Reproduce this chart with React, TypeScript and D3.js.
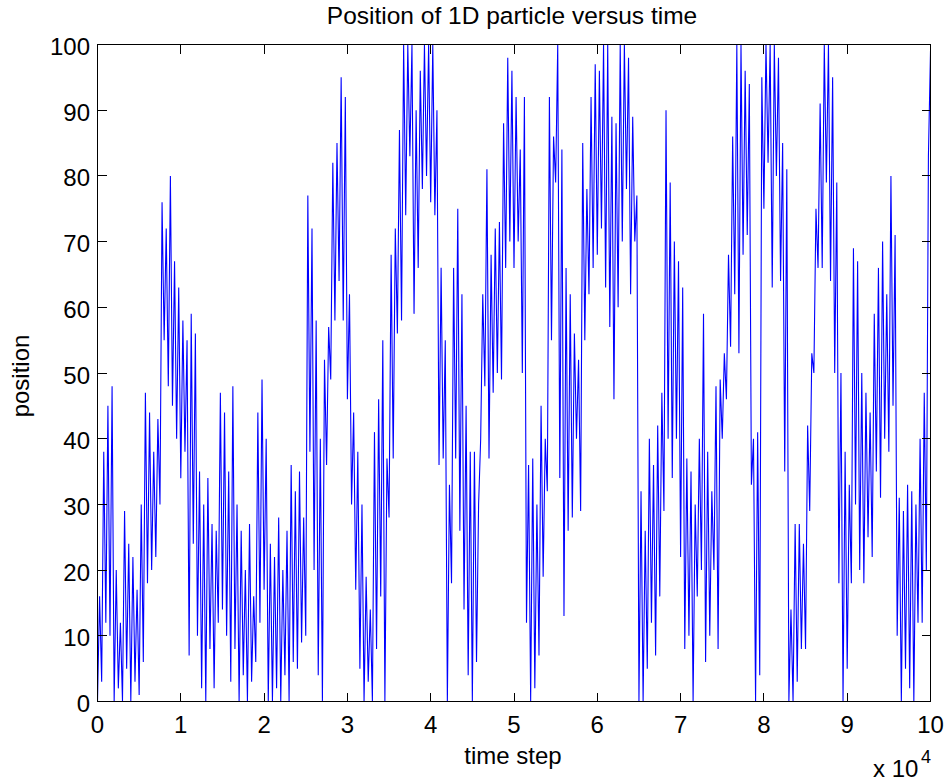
import React from "react";
import * as d3 from "d3";

// particle position, every 250 time steps (0 .. 100000)
const position = [
  0, 16, 3, 38, 12, 45, 10, 48, 0, 20, 2, 12, 0, 29, 5, 24, 0, 22, 3, 17,
  1, 30, 6, 47, 18, 44, 20, 38, 22, 43, 30, 76, 55, 72, 48, 80, 45, 67, 40, 63,
  34, 58, 38, 55, 7, 59, 24, 56, 10, 35, 2, 30, 0, 34, 8, 27, 2, 26, 12, 47,
  14, 44, 10, 35, 3, 48, 8, 30, 0, 26, 4, 20, 0, 27, 3, 16, 6, 44, 12, 49,
  17, 40, 0, 24, 0, 22, 2, 28, 0, 20, 4, 26, 0, 36, 6, 32, 5, 35, 9, 28,
  10, 77, 38, 72, 20, 58, 4, 40, 0, 52, 36, 57, 49, 82, 58, 85, 64, 95, 58, 92,
  46, 62, 30, 44, 17, 38, 5, 30, 0, 19, 3, 14, 0, 41, 8, 46, 16, 55, 0, 37,
  28, 68, 37, 72, 56, 87, 58, 100, 74, 100, 83, 100, 59, 90, 66, 96, 78, 100, 80, 100,
  76, 100, 74, 90, 36, 66, 37, 55, 0, 33, 18, 66, 37, 75, 26, 62, 14, 45, 4, 38,
  0, 38, 6, 30, 40, 62, 48, 81, 37, 68, 47, 72, 50, 73, 49, 88, 66, 98, 70, 96,
  66, 92, 70, 84, 50, 92, 12, 36, 0, 37, 2, 30, 7, 45, 19, 40, 32, 92, 55, 86,
  79, 100, 34, 84, 13, 66, 26, 62, 28, 56, 40, 52, 29, 85, 55, 78, 62, 92, 66, 97,
  68, 96, 72, 100, 63, 100, 57, 89, 46, 88, 60, 100, 70, 100, 78, 98, 62, 89, 70, 77,
  0, 32, 0, 26, 5, 40, 12, 36, 7, 42, 16, 47, 29, 90, 40, 79, 34, 70, 40, 67,
  22, 63, 8, 37, 10, 35, 0, 30, 16, 40, 20, 59, 6, 38, 10, 32, 20, 48, 8, 49,
  40, 53, 46, 68, 54, 86, 62, 100, 53, 100, 68, 96, 71, 94, 33, 40, 0, 41, 4, 95,
  75, 100, 82, 100, 63, 100, 80, 98, 64, 85, 35, 81, 0, 14, 0, 27, 3, 27, 8, 24,
  8, 42, 29, 53, 50, 75, 66, 91, 66, 100, 79, 100, 64, 95, 50, 79, 18, 50, 0, 38,
  5, 33, 18, 69, 30, 67, 20, 50, 18, 47, 25, 44, 22, 59, 35, 66, 31, 70, 40, 62,
  38, 80, 45, 71, 10, 31, 0, 29, 5, 33, 2, 32, 0, 30, 12, 40, 12, 47, 20, 83,
  99,
];
const stepSize = 250;

const xTicks = [0, 10000, 20000, 30000, 40000, 50000, 60000, 70000, 80000, 90000, 100000];
const xTickLabels = ["0", "1", "2", "3", "4", "5", "6", "7", "8", "9", "10"];
const yTicks = [0, 10, 20, 30, 40, 50, 60, 70, 80, 90, 100];

const width = 945;
const height = 782;
const left = 97.5;
const right = 930.5;
const top = 44.5;
const bottom = 701.5;
const tickLen = 9;
const font = "'Liberation Sans', Arial, Helvetica, sans-serif";

const App = () => {
  const x = d3.scaleLinear().domain([0, 100000]).range([left, right]);
  const y = d3.scaleLinear().domain([0, 100]).range([bottom, top]);

  const line = d3
    .line<number>()
    .x((d, i) => x(i * stepSize))
    .y((d) => y(d));

  return (
    <div style={{ position: "fixed", left: 0, top: 0 }}>
      <svg width={width} height={height} style={{ display: "block", background: "#fff" }}>
        <defs>
          <clipPath id="plot">
            <rect x={left} y={top} width={right - left} height={bottom - top} />
          </clipPath>
        </defs>

        <path
          d={line(position) || ""}
          fill="none"
          stroke="#0000ff"
          strokeWidth={1.1}
          strokeLinejoin="miter"
          clipPath="url(#plot)"
        />

        <g stroke="#000" strokeWidth={1} shapeRendering="crispEdges">
          <rect x={left} y={top} width={right - left} height={bottom - top} fill="none" />
          {xTicks.map((t) => (
            <g key={"x" + t}>
              <line x1={x(t)} x2={x(t)} y1={bottom} y2={bottom - tickLen} />
              <line x1={x(t)} x2={x(t)} y1={top} y2={top + tickLen} />
            </g>
          ))}
          {yTicks.map((t) => (
            <g key={"y" + t}>
              <line x1={left} x2={left + tickLen} y1={y(t)} y2={y(t)} />
              <line x1={right} x2={right - tickLen} y1={y(t)} y2={y(t)} />
            </g>
          ))}
        </g>

        <g fontFamily={font} fontSize={24} fill="#000">
          {xTicks.map((t, i) => (
            <text key={"xl" + t} x={x(t)} y={733} textAnchor="middle">
              {xTickLabels[i]}
            </text>
          ))}
          {yTicks.map((t) => (
            <text key={"yl" + t} x={90} y={y(t) + 10.5} textAnchor="end">
              {t}
            </text>
          ))}
          <text x={512} y={24} textAnchor="middle" fontSize={24.5}>
            Position of 1D particle versus time
          </text>
          <text x={513} y={764} textAnchor="middle">
            time step
          </text>
          <text transform={`translate(29, 376) rotate(-90)`} textAnchor="middle">
            position
          </text>
          <text x={873} y={777}>
            x 10
          </text>
          <text x={921} y={763} fontSize={18}>
            4
          </text>
        </g>
      </svg>
    </div>
  );
};

export default App;
